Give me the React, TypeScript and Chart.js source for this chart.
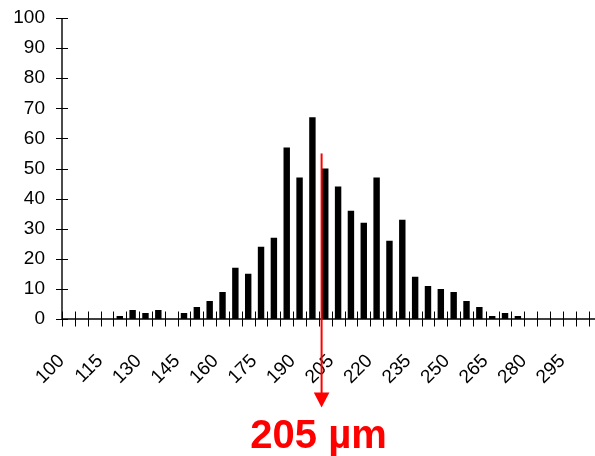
import { useEffect, useRef } from 'react';
import Chart from 'chart.js/auto';

// Particle size classes (µm) and counts per class
const SIZES = [
  '100', '105', '110', '115', '120', '125', '130', '135', '140', '145',
  '150', '155', '160', '165', '170', '175', '180', '185', '190', '195',
  '200', '205', '210', '215', '220', '225', '230', '235', '240', '245',
  '250', '255', '260', '265', '270', '275', '280', '285', '290', '295', '300',
];
const COUNTS = [
  0, 0, 0, 0, 1, 3, 2, 3, 0, 2,
  4, 6, 9, 17, 15, 24, 27, 57, 47, 67,
  50, 44, 36, 32, 47, 26, 33, 14, 11, 10,
  9, 6, 4, 1, 2, 1, 0, 0, 0, 0, 0,
];
// Axis labels shown on the size axis
const SIZE_TICK_LABELS = ['100', '115', '130', '145', '160', '175', '190', '205', '220', '235', '250', '265', '280', '295'];
const Y_MIN = 0;
const Y_MAX = 100;
const Y_STEP = 10;

// Marked mean size and the count level where its pointer starts
const MARKER_SIZE = '205';
const MARKER_TEXT = '205 µm';
const MARKER_TOP_COUNT = 55;

const FONT = '"Liberation Sans", Arial, Helvetica, sans-serif';
const LABEL_SHIFT = -7;

// keep the plot area exactly where the layout padding puts it
const noAutoPadding = (s: any) => {
  s.paddingTop = 0;
  s.paddingBottom = 0;
  s.paddingLeft = 0;
  s.paddingRight = 0;
};

const axisPlugin = {
  id: 'crossAxes',
  afterDraw(chart: any) {
    const { ctx, chartArea, scales } = chart;
    const x = scales.x;
    const y = scales.y;
    const y0 = y.getPixelForValue(0);
    ctx.save();
    ctx.strokeStyle = '#000';
    // axis lines
    ctx.lineWidth = 1.4;
    ctx.beginPath();
    ctx.moveTo(chartArea.left, y.getPixelForValue(Y_MAX));
    ctx.lineTo(chartArea.left, y0);
    ctx.moveTo(chartArea.left, y0);
    ctx.lineTo(chart.width, y0);
    ctx.stroke();
    // crossing tick marks
    ctx.lineWidth = 1;
    ctx.beginPath();
    for (let v = Y_MIN; v <= Y_MAX; v += Y_STEP) {
      const py = Math.round(y.getPixelForValue(v)) + 0.5;
      ctx.moveTo(chartArea.left - 6, py);
      ctx.lineTo(chartArea.left + 6, py);
    }
    const n = SIZES.length;
    const step = (chartArea.right - chartArea.left) / n;
    for (let i = 0; i <= n; i++) {
      const px = Math.round(chartArea.left + i * step) + 0.5;
      ctx.moveTo(px, y0 - 7.5);
      ctx.lineTo(px, y0 + 7.5);
    }
    ctx.stroke();

    // pointer to the marked size
    const idx = SIZES.indexOf(MARKER_SIZE);
    const mx = x.getPixelForValue(idx) + LABEL_SHIFT - 9.5;
    const top = y.getPixelForValue(MARKER_TOP_COUNT);
    const tip = 407.5;
    const headH = 15;
    ctx.strokeStyle = '#ff0000';
    ctx.fillStyle = '#ff0000';
    ctx.lineWidth = 2;
    ctx.beginPath();
    ctx.moveTo(mx, top);
    ctx.lineTo(mx, tip - headH + 1);
    ctx.stroke();
    ctx.beginPath();
    ctx.moveTo(mx - 7.8, tip - headH);
    ctx.lineTo(mx + 7.8, tip - headH);
    ctx.lineTo(mx, tip);
    ctx.closePath();
    ctx.fill();

    ctx.font = `bold 40px ${FONT}`;
    ctx.textAlign = 'center';
    ctx.textBaseline = 'alphabetic';
    ctx.fillText(MARKER_TEXT, mx - 3, 447.5);
    ctx.restore();
  },
};

export default function App() {
  const ref = useRef<HTMLCanvasElement | null>(null);

  useEffect(() => {
    if (!ref.current) return;
    const chart = new Chart(ref.current, {
      type: 'bar',
      data: {
        labels: SIZES,
        datasets: [
          {
            data: COUNTS,
            backgroundColor: '#000000',
            borderWidth: 0,
            categoryPercentage: 1,
            barPercentage: 0.5,
          },
        ],
      },
      options: {
        animation: false,
        responsive: false,
        maintainAspectRatio: false,
        layout: { padding: { top: 18, right: 6.5, left: 0, bottom: 0 } },
        plugins: { legend: { display: false }, tooltip: { enabled: false } },
        scales: {
          x: {
            grid: { display: false, drawTicks: false },
            border: { display: false },
            afterFit: (s: any) => {
              s.height = 137;
              noAutoPadding(s);
            },
            ticks: {
              autoSkip: false,
              minRotation: 45,
              maxRotation: 45,
              padding: 31,
              labelOffset: LABEL_SHIFT,
              color: '#000',
              font: { family: FONT, size: 19 },
              callback: (_v: any, i: number) => (SIZE_TICK_LABELS.includes(SIZES[i]) ? SIZES[i] : ''),
            },
          },
          y: {
            min: Y_MIN,
            max: Y_MAX,
            grid: { display: false, drawTicks: false },
            border: { display: false },
            afterFit: (s: any) => {
              s.width = 62;
              noAutoPadding(s);
            },
            ticks: {
              stepSize: Y_STEP,
              padding: 17,
              color: '#000',
              font: { family: FONT, size: 19 },
            },
          },
        },
      },
      plugins: [axisPlugin],
    });
    return () => chart.destroy();
  }, []);

  return (
    <div style={{ position: 'fixed', left: 0, top: 0, width: 595, height: 456, background: '#fff' }}>
      <canvas ref={ref} width={595} height={456} style={{ width: 595, height: 456 }} />
    </div>
  );
}
